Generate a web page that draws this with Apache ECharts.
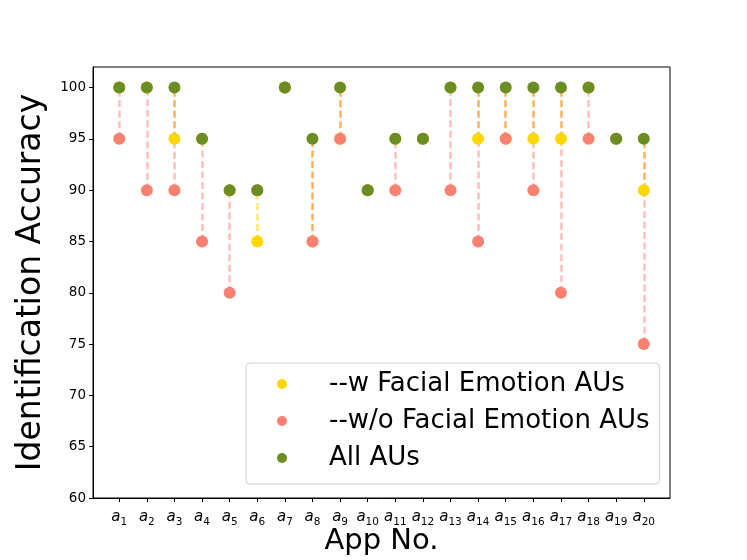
<!DOCTYPE html>
<html>
<head>
<meta charset="utf-8">
<script src="https://cdn.jsdelivr.net/npm/echarts@6/dist/echarts.min.js"></script>
<style>
  html, body { margin: 0; padding: 0; background: #fff; }
  #chart { width: 747px; height: 560px; }
</style>
</head>
<body>
<div id="chart"></div>
<script>
// app numbers a1..a20
var appIds = [1, 2, 3, 4, 5, 6, 7, 8, 9, 10, 11, 12, 13, 14, 15, 16, 17, 18, 19, 20];
// identification accuracy per app
var withFacial = [100, 100, 95, 95, 90, 85, 100, 85, 95, 90, 95, 95, 100, 95, 95, 95, 95, 100, 95, 90];
var withoutFacial = [95, 90, 90, 85, 80, 90, 100, 85, 95, 90, 90, 95, 90, 85, 95, 90, 80, 95, 95, 75];
var allAUs = [100, 100, 100, 95, 90, 90, 100, 95, 100, 90, 95, 95, 100, 100, 100, 100, 100, 100, 95, 95];
var yTicks = [60, 65, 70, 75, 80, 85, 90, 95, 100];

var legendNames = ["--w Facial Emotion AUs", "--w/o Facial Emotion AUs", "All AUs"];
var FONT = "DejaVu Sans";

// dashed connectors between the markers of one app
var pinkSegs = [], orangeSegs = [], yellowSegs = [];
appIds.forEach(function (id, i) {
  var w = withFacial[i], wo = withoutFacial[i], a = allAUs[i];
  if (w > wo) pinkSegs.push({ coords: [[i, wo], [i, w]] });
  if (a > w && w >= wo) orangeSegs.push({ coords: [[i, w], [i, a]] });
  if (a > w && w < wo) yellowSegs.push({ coords: [[i, w], [i, a]] });
});

function points(arr) {
  return arr.map(function (v, i) { return [i, v]; });
}
function segSeries(data, color) {
  return {
    type: "lines",
    coordinateSystem: "cartesian2d",
    data: data,
    z: 1,
    silent: true,
    lineStyle: { color: color, width: 2.5, type: [7, 3.5], opacity: 1 }
  };
}

var myChart = echarts.init(document.getElementById("chart"));
myChart.setOption({
  animation: false,
  textStyle: { fontFamily: FONT },
  grid: {
    left: 93, right: 77, top: 67, bottom: 62,
    containLabel: false,
    outerBoundsMode: "none",
    show: true, borderColor: "#000", borderWidth: 1, backgroundColor: "transparent"
  },
  legend: {
    data: legendNames,
    orient: "vertical",
    left: 246,
    top: 363,
    itemWidth: 10,
    itemHeight: 10,
    itemGap: 7,
    icon: "circle",
    padding: [6, 10, 11, 31],
    borderColor: "#d0d0d0",
    borderWidth: 1,
    borderRadius: 4,
    backgroundColor: "rgba(255,255,255,0.8)",
    textStyle: { fontFamily: FONT, fontSize: 26, color: "#000", lineHeight: 30, padding: [0, 0, 0, 37] }
  },
  xAxis: {
    type: "value",
    min: -0.95,
    max: 19.95,
    name: "App No.",
    nameLocation: "middle",
    nameGap: 29,
    nameMoveOverlap: false,
    nameTextStyle: { fontFamily: FONT, fontSize: 29, color: "#000" },
    splitLine: { show: false },
    axisLine: { show: true, onZero: false, lineStyle: { color: "#000", width: 1 } },
    axisTick: { show: true, length: 4, lineStyle: { color: "#000" }, customValues: appIds.map(function (d, i) { return i; }) },
    axisLabel: {
      customValues: appIds.map(function (d, i) { return i; }),
      margin: 12,
      formatter: function (v) { return "{a|a}{n|" + appIds[v] + "}"; },
      rich: {
        a: { fontFamily: FONT, fontStyle: "italic", fontSize: 15, color: "#000", verticalAlign: "bottom", padding: [0, 0, 3, 0] },
        n: { fontFamily: FONT, fontSize: 10.5, color: "#000", verticalAlign: "bottom" }
      }
    }
  },
  yAxis: {
    type: "value",
    min: 60,
    max: 102,
    name: "Identification Accuracy",
    nameLocation: "middle",
    nameGap: 45,
    nameMoveOverlap: false,
    nameTextStyle: { fontFamily: FONT, fontSize: 33, color: "#000" },
    splitLine: { show: false },
    axisLine: { show: true, onZero: false, lineStyle: { color: "#000", width: 1 } },
    axisTick: { show: true, length: 4, lineStyle: { color: "#000" }, customValues: yTicks },
    axisLabel: { customValues: yTicks, fontFamily: FONT, fontSize: 13.5, color: "#000", margin: 7 }
  },
  series: [
    segSeries(pinkSegs, "#ffc0bb"),
    segSeries(orangeSegs, "#ffb060"),
    segSeries(yellowSegs, "#ffe866"),
    {
      name: legendNames[0], type: "scatter", data: points(withFacial),
      symbolSize: 12, z: 2, itemStyle: { color: "#FFD700", opacity: 1 }
    },
    {
      name: legendNames[1], type: "scatter", data: points(withoutFacial),
      symbolSize: 12, z: 3, itemStyle: { color: "#FA8072", opacity: 1 }
    },
    {
      name: legendNames[2], type: "scatter", data: points(allAUs),
      symbolSize: 12, z: 4, itemStyle: { color: "#6B8E23", opacity: 1 }
    }
  ]
});
</script>
</body>
</html>
